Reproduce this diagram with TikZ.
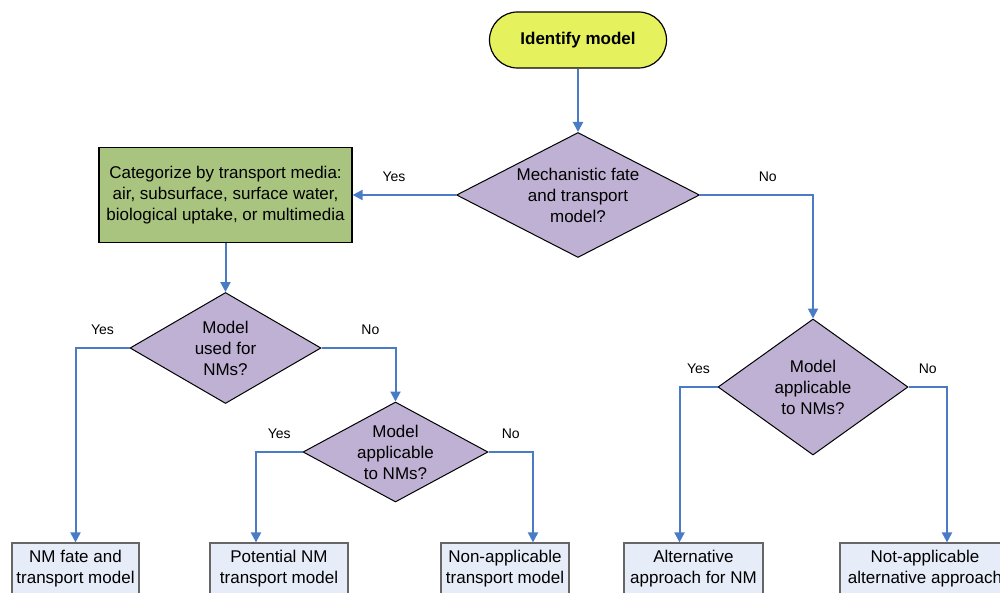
\documentclass[tikz,border=0pt]{standalone}
\usepackage{fontspec}
\setmainfont{Liberation Sans}
\usetikzlibrary{arrows.meta,positioning,shapes.geometric}

\definecolor{startfill}{HTML}{E5F15D}
\definecolor{askfill}{HTML}{BFB1D3}
\definecolor{sortfill}{HTML}{A9C47F}
\definecolor{endfill}{HTML}{E7EDF8}
\definecolor{flowblue}{HTML}{4A7BC6}

\tikzset{
  every node/.style={font=\fontsize{8.5}{10.5}\selectfont, align=center},
  terminal/.style={draw, line width=0.6pt, fill=startfill, rounded corners=14pt,
    minimum width=88.5pt, minimum height=28pt, font=\fontsize{8.5}{10.5}\selectfont\bfseries},
  ask/.style={diamond, draw, line width=0.5pt, fill=askfill, inner sep=-1pt},
  sortbox/.style={draw, line width=0.6pt, fill=sortfill, minimum width=126.5pt,
    minimum height=47.5pt, inner sep=2pt},
  result/.style={draw=black!60, line width=0.6pt, fill=endfill, minimum height=26pt, inner sep=2pt},
  flow/.style={draw=flowblue, line width=1pt, -{Triangle[length=5pt,width=5pt]}},
  answer/.style={font=\fontsize{7}{8}\selectfont, yshift=9pt}
}

\begin{document}
\begin{tikzpicture}[on grid]
\useasboundingbox (0,0) rectangle (500pt,-296.5pt);
\clip (0,0) rectangle (500pt,-296.5pt);

\node[terminal] (start) at (289pt,-20pt) {Identify model};
\node[ask, shape aspect=1.94, minimum width=121.5pt, minimum height=62.5pt] (mech) [below=77.5pt of start] {Mechanistic fate\\and transport\\model?};
\node[sortbox] (media) [left=176.25pt of mech] {Categorize by transport media:\\air, subsurface, surface water,\\biological uptake, or multimedia};
\node[ask, shape aspect=1.72, minimum width=95.5pt, minimum height=55.5pt] (used) [below=76.5pt of media] {Model\\used for\\NMs?};
\node[ask, shape aspect=1.85, minimum width=92.5pt, minimum height=50pt] (applyl) [below right=52pt and 85pt of used] {Model\\applicable\\to NMs?};
\node[ask, shape aspect=1.4, minimum width=95pt, minimum height=68pt] (applyr) [below right=96pt and 117.5pt of mech] {Model\\applicable\\to NMs?};

% outcomes
\node[result, minimum width=63.5pt] (nmfate) [below left=110.5pt and 75pt of used] {NM fate and\\transport model};
\node[result, minimum width=69pt] (potential) [below left=58.5pt and 58.25pt of applyl] {Potential NM\\transport model};
\node[result, minimum width=64pt] (nonapp) [below right=58.5pt and 54.75pt of applyl] {Non-applicable\\transport model};
\node[result, minimum width=69.5pt] (altern) [below left=91pt and 59.75pt of applyr] {Alternative\\approach for NM};
\node[result, minimum width=85pt] (notapp) [below right=91pt and 56pt of applyr] {Not-applicable\\alternative approach};

\draw[flow] (start) -- (mech);
\draw[flow] (mech) -- node[answer, pos=.6] {Yes} (media);
\draw[flow] (mech.east) -| node[answer, pos=.3] {No} (applyr.north);
\draw[flow] (media) -- (used);
\draw[flow] (used.west) -| node[answer, pos=.25] {Yes} (nmfate.north);
\draw[flow] (used.east) -| node[answer, pos=.33] {No} (applyl.north);
\draw[flow] (applyl.west) -| node[answer, pos=.25] {Yes} ([xshift=-11.5pt]potential.north);
\draw[flow] (applyl.east) -| node[answer, pos=.25] {No} ([xshift=14pt]nonapp.north);
\draw[flow] (applyr.west) -| node[answer, pos=.25] {Yes} ([xshift=-7pt]altern.north);
\draw[flow] (applyr.east) -| node[answer, pos=.25] {No} ([xshift=11pt]notapp.north);
\end{tikzpicture}
\end{document}
